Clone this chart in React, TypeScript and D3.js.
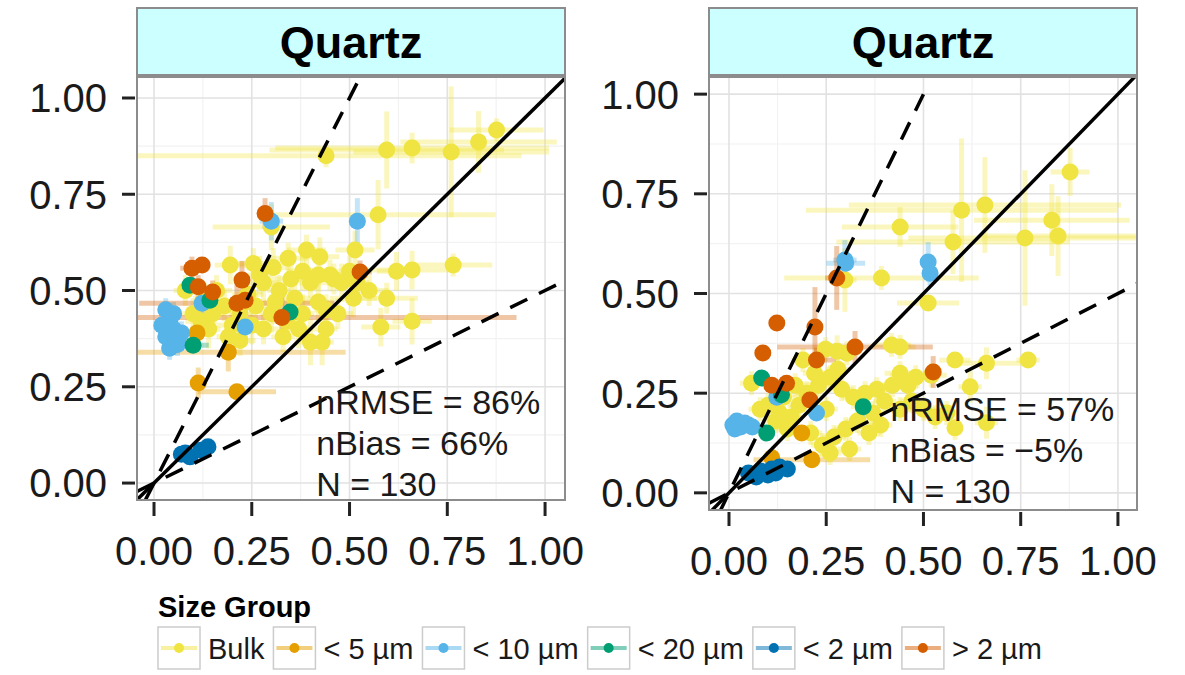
import * as d3 from "d3";
import { useEffect, useRef } from "react";

const groups = ["Bulk", "< 5 µm", "< 10 µm", "< 20 µm", "< 2 µm", "> 2 µm"];
const groupColors = ["#F0E442", "#E69F00", "#56B4E9", "#009E73", "#0072B2", "#D55E00"];

// each point: [x, y, xErr, yErr]
const leftBulk = [
  [0.876, 0.917, 0.12, 0.03], [0.83, 0.886, 0.2, 0.08], [0.76, 0.86, 0.25, 0.17], [0.66, 0.87, 0.35, 0.04],
  [0.595, 0.865, 0.3, 0.1], [0.44, 0.85, 0.5, 0.03], [0.30, 0.665, 0.15, 0.06], [0.573, 0.697, 0.3, 0.09],
  [0.514, 0.605, 0.05, 0.05], [0.765, 0.566, 0.1, 0.03], [0.66, 0.553, 0.12, 0.05], [0.62, 0.55, 0.05, 0.05],
  [0.595, 0.48, 0.08, 0.04], [0.66, 0.42, 0.05, 0.06], [0.58, 0.405, 0.05, 0.05], [0.55, 0.50, 0.05, 0.04],
  [0.51, 0.48, 0.06, 0.05], [0.40, 0.366, 0.04, 0.06], [0.43, 0.366, 0.03, 0.06], [0.39, 0.605, 0.05, 0.04],
  [0.424, 0.588, 0.05, 0.05], [0.45, 0.54, 0.06, 0.04], [0.48, 0.52, 0.05, 0.05], [0.46, 0.53, 0.04, 0.04],
  [0.343, 0.584, 0.05, 0.04], [0.305, 0.56, 0.04, 0.05], [0.254, 0.57, 0.05, 0.04], [0.195, 0.566, 0.04, 0.05],
  [0.28, 0.52, 0.04, 0.05], [0.32, 0.50, 0.03, 0.04], [0.36, 0.48, 0.04, 0.05], [0.38, 0.44, 0.03, 0.05],
  [0.34, 0.42, 0.04, 0.04], [0.30, 0.44, 0.03, 0.05], [0.26, 0.46, 0.04, 0.04], [0.22, 0.44, 0.03, 0.05],
  [0.18, 0.46, 0.04, 0.04], [0.15, 0.44, 0.03, 0.05], [0.12, 0.42, 0.04, 0.04], [0.10, 0.44, 0.03, 0.04],
  [0.08, 0.50, 0.03, 0.04], [0.14, 0.40, 0.03, 0.05], [0.20, 0.41, 0.04, 0.04], [0.25, 0.41, 0.03, 0.05],
  [0.28, 0.40, 0.04, 0.04], [0.31, 0.47, 0.03, 0.04], [0.35, 0.53, 0.04, 0.05], [0.40, 0.52, 0.03, 0.04],
  [0.42, 0.47, 0.04, 0.05], [0.44, 0.45, 0.03, 0.04], [0.37, 0.40, 0.04, 0.05], [0.33, 0.38, 0.03, 0.04],
  [0.24, 0.49, 0.04, 0.04], [0.27, 0.54, 0.03, 0.05], [0.16, 0.50, 0.04, 0.04], [0.13, 0.48, 0.03, 0.04],
  [0.19, 0.38, 0.03, 0.05], [0.22, 0.37, 0.04, 0.04], [0.42, 0.54, 0.03, 0.04], [0.38, 0.55, 0.04, 0.05],
  [0.50, 0.55, 0.04, 0.04], [0.52, 0.52, 0.03, 0.05], [0.47, 0.44, 0.04, 0.04], [0.44, 0.40, 0.03, 0.05],
];
const leftLt5 = [[0.19, 0.34, 0.3, 0.05], [0.113, 0.26, 0.02, 0.04], [0.212, 0.237, 0.1, 0.02], [0.11, 0.39, 0.03, 0.02]];
const leftLt10 = [
  [0.52, 0.68, 0.02, 0.06], [0.30, 0.68, 0.03, 0.05], [0.123, 0.467, 0.02, 0.03], [0.233, 0.405, 0.02, 0.03],
  [0.03, 0.45, 0.02, 0.03], [0.04, 0.42, 0.02, 0.03], [0.05, 0.40, 0.02, 0.03], [0.03, 0.38, 0.02, 0.03],
  [0.06, 0.37, 0.02, 0.03], [0.04, 0.35, 0.02, 0.03], [0.07, 0.39, 0.02, 0.03], [0.02, 0.41, 0.02, 0.03],
  [0.05, 0.44, 0.02, 0.03], [0.06, 0.36, 0.02, 0.03],
];
const leftLt20 = [[0.092, 0.514, 0.02, 0.02], [0.143, 0.475, 0.02, 0.02], [0.348, 0.444, 0.02, 0.03], [0.1, 0.358, 0.04, 0.02]];
const leftLt2 = [[0.08, 0.078, 0.02, 0.01], [0.138, 0.094, 0.02, 0.01], [0.092, 0.068, 0.02, 0.01], [0.12, 0.085, 0.02, 0.01], [0.07, 0.075, 0.02, 0.01]];
const leftGt2 = [
  [0.284, 0.70, 0.02, 0.04], [0.097, 0.558, 0.03, 0.03], [0.123, 0.566, 0.02, 0.02], [0.113, 0.51, 0.02, 0.03],
  [0.15, 0.496, 0.03, 0.03], [0.225, 0.527, 0.02, 0.05], [0.212, 0.467, 0.25, 0.05], [0.233, 0.475, 0.02, 0.04],
  [0.327, 0.43, 0.6, 0.06], [0.527, 0.548, 0.03, 0.03],
];

const rightBulk = [
  [0.877, 0.805, 0.05, 0.06], [0.598, 0.709, 0.4, 0.18], [0.658, 0.722, 0.35, 0.12], [0.83, 0.684, 0.2, 0.09],
  [0.846, 0.644, 0.2, 0.1], [0.761, 0.639, 0.3, 0.17], [0.576, 0.629, 0.3, 0.08], [0.44, 0.667, 0.15, 0.05],
  [0.298, 0.534, 0.03, 0.08], [0.392, 0.539, 0.25, 0.03], [0.512, 0.476, 0.08, 0.02], [0.418, 0.371, 0.05, 0.03],
  [0.44, 0.366, 0.04, 0.03], [0.248, 0.36, 0.03, 0.03], [0.278, 0.355, 0.03, 0.04], [0.303, 0.35, 0.03, 0.03],
  [0.19, 0.333, 0.03, 0.03], [0.581, 0.333, 0.04, 0.02], [0.769, 0.333, 0.03, 0.02], [0.662, 0.325, 0.1, 0.04],
  [0.44, 0.30, 0.04, 0.03], [0.48, 0.29, 0.03, 0.03], [0.52, 0.295, 0.04, 0.03], [0.46, 0.27, 0.03, 0.03],
  [0.058, 0.275, 0.03, 0.03], [0.62, 0.266, 0.03, 0.04], [0.581, 0.163, 0.02, 0.03], [0.662, 0.176, 0.03, 0.04],
  [0.53, 0.19, 0.03, 0.03], [0.56, 0.2, 0.03, 0.03], [0.50, 0.21, 0.03, 0.03], [0.47, 0.23, 0.03, 0.03],
  [0.10, 0.22, 0.03, 0.03], [0.13, 0.20, 0.03, 0.03], [0.16, 0.19, 0.03, 0.03], [0.18, 0.22, 0.03, 0.03],
  [0.20, 0.25, 0.03, 0.03], [0.23, 0.27, 0.03, 0.03], [0.26, 0.29, 0.03, 0.03], [0.29, 0.26, 0.03, 0.03],
  [0.32, 0.24, 0.03, 0.03], [0.35, 0.25, 0.03, 0.03], [0.38, 0.26, 0.03, 0.03], [0.40, 0.23, 0.03, 0.03],
  [0.37, 0.20, 0.03, 0.03], [0.33, 0.18, 0.03, 0.03], [0.30, 0.16, 0.03, 0.03], [0.27, 0.14, 0.03, 0.03],
  [0.24, 0.12, 0.03, 0.03], [0.21, 0.15, 0.03, 0.03], [0.15, 0.16, 0.03, 0.03], [0.12, 0.18, 0.03, 0.03],
  [0.25, 0.21, 0.03, 0.03], [0.28, 0.31, 0.03, 0.03], [0.22, 0.30, 0.03, 0.03], [0.17, 0.27, 0.03, 0.03],
  [0.14, 0.24, 0.03, 0.03], [0.08, 0.21, 0.03, 0.03], [0.42, 0.27, 0.03, 0.03], [0.44, 0.21, 0.03, 0.03],
  [0.39, 0.17, 0.03, 0.03], [0.36, 0.15, 0.03, 0.03], [0.31, 0.11, 0.03, 0.03], [0.26, 0.10, 0.03, 0.03],
];
const rightLt5 = [[0.187, 0.15, 0.02, 0.02], [0.11, 0.088, 0.02, 0.02], [0.213, 0.083, 0.15, 0.02]];
const rightLt10 = [
  [0.298, 0.584, 0.03, 0.05], [0.30, 0.576, 0.05, 0.02], [0.512, 0.579, 0.02, 0.05], [0.517, 0.551, 0.02, 0.03],
  [0.123, 0.24, 0.02, 0.02], [0.225, 0.2, 0.02, 0.02], [0.01, 0.17, 0.01, 0.01], [0.03, 0.165, 0.01, 0.01],
  [0.05, 0.17, 0.01, 0.01], [0.02, 0.18, 0.01, 0.01], [0.04, 0.175, 0.01, 0.01], [0.06, 0.165, 0.01, 0.01],
  [0.015, 0.16, 0.01, 0.01],
];
const rightLt20 = [[0.084, 0.288, 0.02, 0.02], [0.135, 0.246, 0.02, 0.02], [0.345, 0.216, 0.02, 0.04], [0.097, 0.15, 0.02, 0.02]];
const rightLt2 = [
  [0.05, 0.05, 0.01, 0.01], [0.08, 0.055, 0.01, 0.01], [0.11, 0.06, 0.01, 0.01], [0.13, 0.065, 0.01, 0.01],
  [0.15, 0.06, 0.01, 0.01], [0.07, 0.04, 0.01, 0.01], [0.10, 0.045, 0.01, 0.01], [0.12, 0.05, 0.01, 0.01],
];
const rightGt2 = [
  [0.277, 0.539, 0.03, 0.08], [0.123, 0.426, 0.02, 0.02], [0.221, 0.416, 0.02, 0.1], [0.087, 0.351, 0.02, 0.02],
  [0.324, 0.366, 0.2, 0.04], [0.225, 0.333, 0.05, 0.03], [0.525, 0.303, 0.02, 0.04], [0.11, 0.27, 0.02, 0.02],
  [0.148, 0.275, 0.02, 0.02], [0.208, 0.233, 0.02, 0.02],
];

const leftStats = ["nRMSE = 86%", "nBias = 66%", "N = 130"];
const rightStats = ["nRMSE = 57%", "nBias = −5%", "N = 130"];
const stripTitle = "Quartz";
const legendTitle = "Size Group";
const majorTicks = [0, 0.25, 0.5, 0.75, 1];
const minorTicks = [0.125, 0.375, 0.625, 0.875];

const FONT = "'Liberation Sans', Arial, Helvetica, sans-serif";

const App = () => {
  const chartRef = useRef(null);

  useEffect(() => {
    const svg = d3.select(chartRef.current);
    svg.selectAll("*").remove();

    const panels = [
      {
        id: "left", left: 137, right: 565, top: 77, bottom: 500,
        xDomain: [-0.0435, 1.051], yDomain: [-0.044, 1.0545],
        series: [leftBulk, leftLt5, leftLt10, leftLt20, leftLt2, leftGt2],
        stats: leftStats, upperEnd: 0.52,
      },
      {
        id: "right", left: 709, right: 1137, top: 77, bottom: 510,
        xDomain: [-0.0514, 1.049], yDomain: [-0.043, 1.043],
        series: [rightBulk, rightLt5, rightLt10, rightLt20, rightLt2, rightGt2],
        stats: rightStats, upperEnd: 0.5,
      },
    ];

    panels.forEach(p => {
      const x = d3.scaleLinear().domain(p.xDomain).range([p.left, p.right]);
      const y = d3.scaleLinear().domain(p.yDomain).range([p.bottom, p.top]);
      const g = svg.append("g");

      g.append("clipPath").attr("id", `clip-${p.id}`)
        .append("rect").attr("x", p.left).attr("y", p.top)
        .attr("width", p.right - p.left).attr("height", p.bottom - p.top);

      g.append("rect").attr("x", p.left).attr("y", p.top)
        .attr("width", p.right - p.left).attr("height", p.bottom - p.top)
        .attr("fill", "white");

      // grid
      minorTicks.forEach(t => {
        g.append("line").attr("x1", x(t)).attr("x2", x(t)).attr("y1", p.top).attr("y2", p.bottom)
          .attr("stroke", "#f2f2f2").attr("stroke-width", 1.2);
        g.append("line").attr("y1", y(t)).attr("y2", y(t)).attr("x1", p.left).attr("x2", p.right)
          .attr("stroke", "#f2f2f2").attr("stroke-width", 1.2);
      });
      majorTicks.forEach(t => {
        g.append("line").attr("x1", x(t)).attr("x2", x(t)).attr("y1", p.top).attr("y2", p.bottom)
          .attr("stroke", "#e2e2e2").attr("stroke-width", 1.6);
        g.append("line").attr("y1", y(t)).attr("y2", y(t)).attr("x1", p.left).attr("x2", p.right)
          .attr("stroke", "#e2e2e2").attr("stroke-width", 1.6);
      });

      const plot = g.append("g").attr("clip-path", `url(#clip-${p.id})`);

      // error bars
      p.series.forEach((pts, gi) => {
        pts.forEach(d => {
          plot.append("line").attr("x1", x(d[0] - d[2])).attr("x2", x(d[0] + d[2]))
            .attr("y1", y(d[1])).attr("y2", y(d[1]))
            .attr("stroke", groupColors[gi]).attr("stroke-width", 5).attr("stroke-opacity", 0.35);
          plot.append("line").attr("x1", x(d[0])).attr("x2", x(d[0]))
            .attr("y1", y(d[1] - d[3])).attr("y2", y(d[1] + d[3]))
            .attr("stroke", groupColors[gi]).attr("stroke-width", 5).attr("stroke-opacity", 0.35);
        });
      });

      // points
      p.series.forEach((pts, gi) => {
        plot.selectAll(`.pt-${gi}`).data(pts).enter().append("circle")
          .attr("class", `pt-${gi}`)
          .attr("cx", d => x(d[0])).attr("cy", d => y(d[1])).attr("r", 8.5)
          .attr("fill", groupColors[gi]);
      });

      // reference lines
      const lo = p.xDomain[0];
      plot.append("line").attr("x1", x(lo)).attr("y1", y(lo)).attr("x2", x(p.xDomain[1])).attr("y2", y(p.xDomain[1]))
        .attr("stroke", "black").attr("stroke-width", 3.5);
      plot.append("line").attr("x1", x(lo / 2)).attr("y1", y(lo)).attr("x2", x(p.upperEnd)).attr("y2", y(p.upperEnd * 2))
        .attr("stroke", "black").attr("stroke-width", 3.5).attr("stroke-dasharray", "19,13");
      plot.append("line").attr("x1", x(lo)).attr("y1", y(lo / 2)).attr("x2", x(p.xDomain[1])).attr("y2", y(p.xDomain[1] / 2))
        .attr("stroke", "black").attr("stroke-width", 3.5).attr("stroke-dasharray", "19,13");

      // stats text
      p.stats.forEach((s, i) => {
        g.append("text").attr("x", x(0.415)).attr("y", y(0.18) + i * 41)
          .attr("font-family", FONT).attr("font-size", 34).attr("fill", "#1a1a1a").text(s);
      });

      // panel border
      g.append("rect").attr("x", p.left).attr("y", p.top)
        .attr("width", p.right - p.left).attr("height", p.bottom - p.top)
        .attr("fill", "none").attr("stroke", "#8c8c8c").attr("stroke-width", 2);

      // strip
      g.append("rect").attr("x", p.left).attr("y", 8)
        .attr("width", p.right - p.left).attr("height", p.top - 10)
        .attr("fill", "#CCFFFF").attr("stroke", "#8c8c8c").attr("stroke-width", 2);
      g.append("text").attr("x", (p.left + p.right) / 2).attr("y", 8 + (p.top - 10) / 2)
        .attr("dy", "0.36em").attr("text-anchor", "middle")
        .attr("font-family", FONT).attr("font-weight", "bold").attr("font-size", 45).text(stripTitle);

      // axes
      majorTicks.forEach(t => {
        g.append("line").attr("x1", p.left - 15).attr("x2", p.left - 2).attr("y1", y(t)).attr("y2", y(t))
          .attr("stroke", "#222").attr("stroke-width", 3);
        g.append("text").attr("x", p.left - 30).attr("y", y(t)).attr("dy", "0.36em")
          .attr("text-anchor", "end").attr("font-family", FONT).attr("font-size", 40).attr("fill", "#1a1a1a")
          .text(d3.format(".2f")(t));
        g.append("line").attr("x1", x(t)).attr("x2", x(t)).attr("y1", p.bottom + 2).attr("y2", p.bottom + 16)
          .attr("stroke", "#222").attr("stroke-width", 3);
        g.append("text").attr("x", x(t)).attr("y", p.bottom + 65)
          .attr("text-anchor", "middle").attr("font-family", FONT).attr("font-size", 40).attr("fill", "#1a1a1a")
          .text(d3.format(".2f")(t));
      });
    });

    // legend
    const lg = svg.append("g");
    lg.append("text").attr("x", 158).attr("y", 617).attr("font-family", FONT)
      .attr("font-weight", "bold").attr("font-size", 29).text(legendTitle);
    let cx = 158;
    groups.forEach((name, i) => {
      lg.append("rect").attr("x", cx).attr("y", 627).attr("width", 42).attr("height", 42)
        .attr("fill", "white").attr("stroke", "#cccccc").attr("stroke-width", 1.5);
      lg.append("line").attr("x1", cx + 3).attr("x2", cx + 39).attr("y1", 648).attr("y2", 648)
        .attr("stroke", groupColors[i]).attr("stroke-width", 4).attr("stroke-opacity", 0.5);
      lg.append("circle").attr("cx", cx + 21).attr("cy", 648).attr("r", 5).attr("fill", groupColors[i]);
      const t = lg.append("text").attr("x", cx + 50).attr("y", 659).attr("font-family", FONT)
        .attr("font-size", 29).attr("fill", "#1a1a1a").text(name);
      const w = (t.node() as SVGTextElement).getComputedTextLength();
      cx = cx + 50 + w + 9;
    });
  }, []);

  return (
    <svg ref={chartRef} width={1185} height={675}
      style={{ position: "absolute", left: 0, top: 0, background: "white" }}></svg>
  );
};

export default App;
